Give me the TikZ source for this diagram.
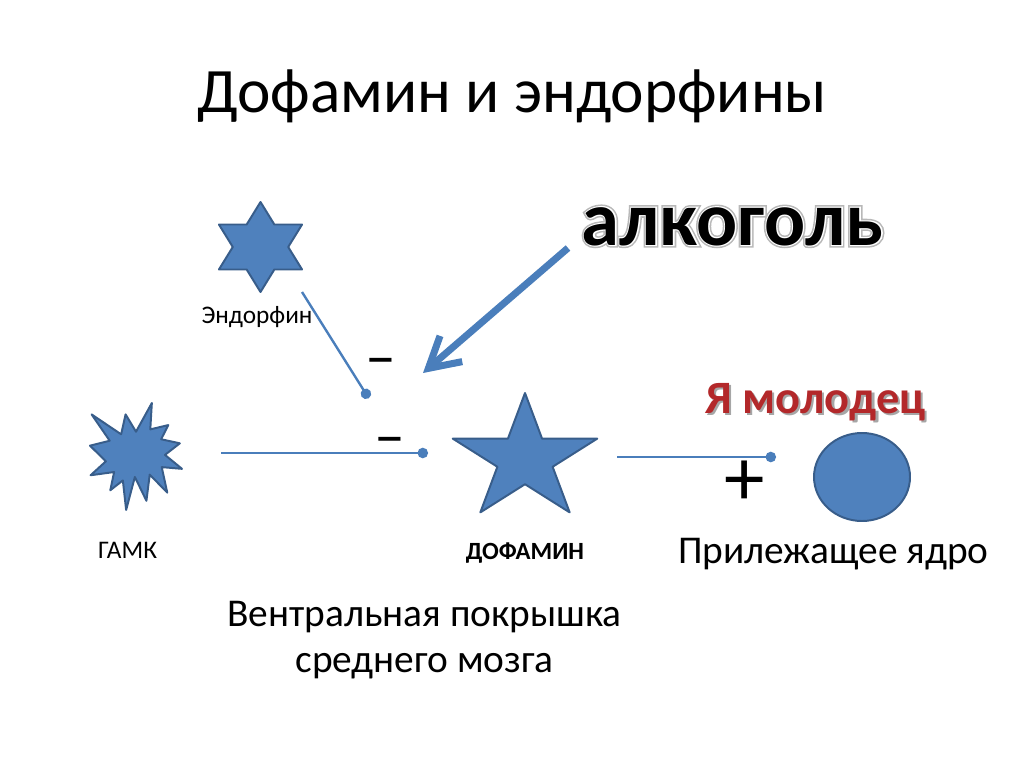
\documentclass[tikz,border=0pt]{standalone}
\usepackage{fontspec}
\setmainfont{Carlito}
\newfontfamily\rimfont{Carlito}[FakeBold=7]
\newfontfamily\gapfont{Carlito}[FakeBold=3]
\usetikzlibrary{arrows.meta,positioning}
\definecolor{Fill}{HTML}{4F81BD}
\definecolor{Edge}{HTML}{385D8A}
\definecolor{Wire}{HTML}{4A7EBB}
\definecolor{Praise}{HTML}{B3282A}
\definecolor{Rim}{HTML}{B8B8B8}
\tikzset{
  blob/.style={fill=Fill,draw=Edge,line width=1.4pt,line join=round},
  wire/.style={draw=Wire,line width=1.7pt,-{Circle[length=2.6mm]}},
  push/.style={draw=Wire,line width=5pt,-{Straight Barb[length=7.5mm,width=8.5mm]}},
  tag/.style={anchor=base,inner sep=0pt,align=center}
}
% soft rim and drop shadow for the two slogans
\newcommand\rimmed[1]{\makebox[0pt][l]{\rimfont\textcolor{Rim}{#1}}\makebox[0pt][l]{\gapfont\textcolor{white}{#1}}#1}
\newcommand\shadowed[1]{\makebox[0pt][l]{\hspace{1.6pt}\raisebox{-1.6pt}{\textcolor{black!35}{#1}}}\textcolor{Praise}{#1}}

\begin{document}
\begin{tikzpicture}[x=0.025cm,y=-0.025cm]
  \useasboundingbox (0,0) rectangle (1024,767);

  \node[tag,font=\fontsize{45}{54}\selectfont] (title) at (512,113) {Дофамин и эндорфины};

  % shapes
  \draw[blob] plot[samples at={0,...,11}] ({260.5+48*cos(90+30*\x)*(mod(\x,2)==0 ? 1 : 0.577)},{247-45*sin(90+30*\x)*(mod(\x,2)==0 ? 1 : 0.577)}) -- cycle;
  \draw[blob] plot[samples at={0,...,9}] ({525+76*cos(90+36*\x)*(mod(\x,2)==0 ? 1 : 0.382)},{459-66*sin(90+36*\x)*(mod(\x,2)==0 ? 1 : 0.382)}) -- cycle;
  \begin{scope}[shift={(90,403)},xscale=0.92,yscale=1.07]
    \draw[blob] (50,26.85) -- (67.23,0) -- (65.53,24.65) -- (85.09,20.63) -- (77.32,33.87)
      -- (97.67,37.67) -- (81.51,48.5) -- (100,61.53) -- (77.95,59.92) -- (84,83.77)
      -- (64.91,66.93) -- (61.33,91.38) -- (48.76,69.14) -- (39.28,100) -- (35.72,72.35)
      -- (22.05,81.56) -- (26.24,64.52) -- (0.63,67.53) -- (17.23,54.51) -- (0,39.88)
      -- (21.42,35.26) -- (1.71,10.63) -- (33.85,29.26) -- (38.67,10.63) -- cycle;
  \end{scope}
  \draw[blob] (862,477) ellipse [x radius=48,y radius=44];

  % connectors
  \coordinate (endoOut) at (302,292);
  \coordinate (endoEnd) at (368.7,398.2);
  \coordinate (gabaOut) at (221,453);
  \coordinate (gabaEnd) at (428,453);
  \coordinate (daOut) at (617,457);
  \coordinate (daEnd) at (776,457);
  \coordinate (alcOut) at (568,248);
  \coordinate (alcEnd) at (423,373);
  \draw[wire] (endoOut) -- (endoEnd);
  \draw[wire] (gabaOut) -- (gabaEnd);
  \draw[wire] (daOut) -- (daEnd);
  \draw[push] (alcOut) -- (alcEnd);

  % texts
  \node[tag,font=\bfseries\fontsize{54.5}{64}\selectfont] (alc) at (732.5,245) {\rimmed{алкоголь}};
  \node[tag,font=\bfseries\fontsize{33}{40}\selectfont] (praise) at (815.5,413) {\shadowed{Я молодец}};
  \node[tag,font=\fontsize{18}{22}\selectfont] (endo) at (257,323) {Эндорфин};
  \node[tag,font=\fontsize{18}{22}\selectfont] (gaba) at (127.5,558) {ГАМК};
  \node[tag,font=\bfseries\fontsize{17.6}{21}\selectfont] (da) at (525,559) {ДОФАМИН};
  \node[tag,font=\fontsize{28}{33}\selectfont] (nacc) at (833.5,563) {Прилежащее ядро};
  \node[tag,font=\fontsize{28}{32.6}\selectfont] (vta) at (424.5,672) {Вентральная покрышка\\среднего мозга};
  \node[tag,font=\fontsize{44}{52}\selectfont] (minusA) at (381,377.5) {–};
  \node[tag,font=\fontsize{44}{52}\selectfont] (minusB) at (390,456.5) {–};
  \node[tag,font=\fontsize{57.6}{68}\selectfont] (plus) at (745,505.5) {+};
\end{tikzpicture}
\end{document}
